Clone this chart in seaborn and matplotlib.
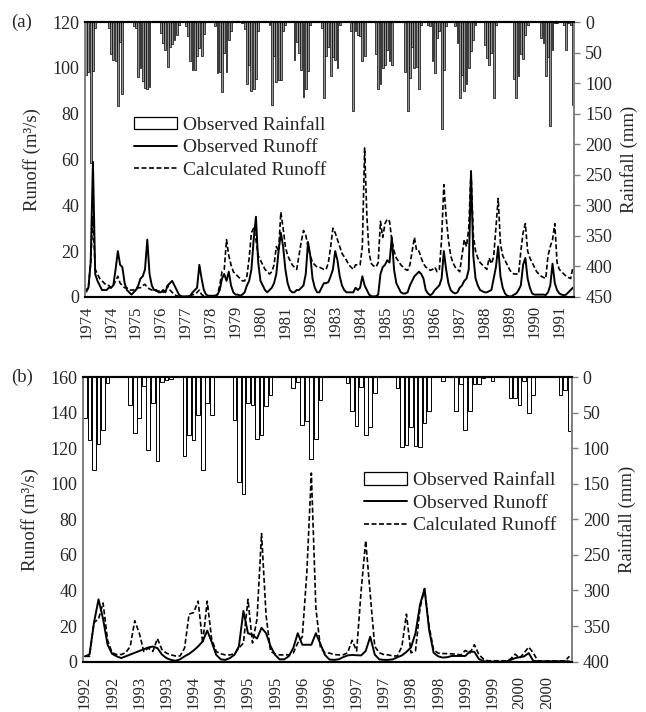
import matplotlib
matplotlib.use("Agg")
import numpy as np
import pandas as pd
import seaborn as sns
import matplotlib.pyplot as plt
from matplotlib.patches import Patch
from matplotlib.lines import Line2D

# ---------------- data (monthly) ----------------
# Panel (a): 1974-1991, 216 months
rain_a = [87, 82, 230, 80, 10, 0, 0, 0, 0, 0,
          9, 52, 62, 64, 138, 32, 118, 0, 0, 0,
          0, 7, 10, 90, 75, 96, 108, 109, 107, 0,
          0, 0, 0, 18, 34, 46, 74, 40, 36, 29,
          21, 4, 0, 0, 7, 23, 64, 78, 78, 55,
          43, 55, 20, 0, 0, 0, 0, 7, 83, 81,
          114, 51, 81, 29, 15, 0, 0, 0, 0, 2,
          12, 102, 70, 113, 110, 94, 15, 0, 0, 0,
          0, 4, 135, 56, 98, 95, 95, 15, 4, 0,
          0, 0, 62, 32, 51, 78, 122, 110, 80, 4,
          0, 0, 0, 0, 10, 124, 56, 40, 89, 58,
          62, 75, 4, 0, 0, 0, 0, 15, 146, 15,
          21, 23, 64, 56, 0, 0, 0, 0, 53, 110,
          102, 75, 70, 45, 63, 70, 0, 0, 0, 0,
          0, 81, 146, 92, 40, 75, 74, 110, 4, 0,
          0, 4, 7, 64, 83, 26, 15, 175, 78, 7,
          0, 0, 0, 7, 34, 124, 86, 113, 102, 75,
          48, 29, 4, 0, 0, 0, 37, 59, 70, 50,
          124, 4, 0, 0, 0, 0, 0, 0, 0, 94,
          124, 89, 53, 60, 21, 4, 0, 0, 0, 0,
          0, 26, 34, 89, 58, 170, 45, 2, 2, 0,
          0, 4, 45, 2, 5, 135]
obs_a = [3, 4, 15, 59, 10, 7, 5, 3, 3, 3,
         4, 4, 5, 12, 20, 14, 13, 6, 3, 2,
         1, 2, 3, 5, 8, 9, 12, 25, 10, 5,
         3, 3, 2, 2, 3, 2, 5, 6, 7, 5,
         3, 1, 0.3, 0.2, 0.2, 0.3, 0.5, 2, 3, 4,
         14, 8, 3, 1, 0.5, 0.5, 0.5, 0.5, 1, 3,
         8, 10, 7, 11, 5, 2, 1, 1, 0.5, 1,
         2, 5, 7, 12, 25, 35, 15, 7, 5, 3,
         2, 3, 4, 6, 10, 20, 28, 22, 12, 6,
         3, 2, 2, 3, 3, 4, 5, 10, 24, 18,
         8, 4, 2, 2, 4, 6, 6, 6.5, 9, 12,
         20, 16, 9, 5, 3, 2, 2, 2, 2, 4,
         3, 4, 9, 5, 3, 1, 0.3, 0.2, 0.3, 1,
         10, 13, 14, 16, 15, 26, 12, 6, 4, 2,
         1.5, 1.5, 2, 5, 7, 9, 10, 11, 10, 8,
         3, 1.5, 0.7, 1.5, 3, 4, 5, 8, 20, 12,
         6, 3, 2, 1.5, 2, 4, 5, 7, 8, 12,
         55, 18, 8, 5, 3, 2.5, 2, 2, 2.5, 3,
         8, 13, 22, 9, 4, 1.5, 0.5, 0.2, 0.3, 1,
         1.5, 3, 5, 14, 17, 8, 4, 1.5, 1, 1,
         1, 1, 1, 0.8, 2, 5, 14.5, 6, 3, 1.5,
         1, 0.7, 1, 2, 3, 4]
calc_a = [2, 4, 15, 35, 12, 10, 8, 7, 6, 5,
          5, 4, 5, 7, 9, 6, 5, 4, 4, 3,
          3, 3, 3, 4, 4, 5, 5.5, 4, 3.5, 3,
          3, 2.5, 2.5, 3, 2, 3, 5, 3, 2, 1,
          0.5, 0.2, 0.1, 0.1, 0.1, 0.2, 0.3, 1, 1, 2,
          3, 1, 0.5, 0.2, 0.1, 0.1, 0.2, 0.5, 1, 5,
          11, 12, 25, 18, 14, 11, 10, 9, 8, 7,
          7, 9, 17, 28, 30, 25, 18, 16, 14, 12,
          11, 10, 11, 14, 22, 20, 37, 30, 22, 18,
          16, 14, 13, 12, 18, 24, 29, 27, 22, 18,
          15, 14, 13, 13, 12.5, 12, 12, 15, 22, 30,
          28, 25, 22, 19, 17.5, 16, 14, 13, 12, 14,
          14, 14, 22, 65, 35, 19, 14.5, 13.5, 13, 15,
          33, 26, 32, 34, 33, 25, 20, 17, 15.5, 14,
          13, 12, 11.6, 14, 20, 26, 20, 20, 17, 14.5,
          13, 12.5, 11.6, 12, 13, 11, 12, 25, 49, 35,
          25, 18, 15, 13, 12, 11, 18, 25, 22, 30,
          55, 27, 20, 17, 15, 14, 13, 12, 17, 14.5,
          17.5, 30, 43, 23, 18, 16, 14, 12, 10.5, 10,
          10, 10, 20, 28, 32, 20, 17, 15, 13, 11,
          10, 9, 8.5, 8, 18, 22, 25, 32, 15, 12,
          11, 10, 9, 8.5, 8, 13]
ticks_a = list(range(0, 216, 11))
labels_a = ["1974", "1974", "1975", "1976", "1977", "1978", "1979", "1980",
            "1981", "1982", "1983", "1984", "1985", "1985", "1986", "1987",
            "1988", "1989", "1990", "1991"]

# Panel (b): 1992-2000, 108 months
rain_b = [57, 88, 130, 94, 74, 8, 0, 0, 0, 0,
          39, 78, 58, 12, 102, 37, 118, 7, 4, 3,
          0, 0, 111, 81, 88, 53, 130, 36, 54, 0,
          0, 0, 0, 61, 147, 164, 37, 40, 87, 82,
          41, 25, 0, 0, 0, 0, 15, 7, 68, 62,
          115, 87, 32, 0, 0, 0, 0, 0, 8, 48,
          69, 14, 82, 70, 23, 0, 0, 0, 0, 15,
          98, 96, 70, 97, 99, 64, 48, 0, 0, 5,
          0, 0, 48, 10, 75, 48, 10, 10, 2, 0,
          5, 0, 0, 0, 29, 30, 39, 5, 50, 25,
          0, 0, 0, 0, 0, 25, 18, 76]
obs_b = [3, 4, 22, 35, 24, 9.5, 4.4, 3, 2, 3,
         4, 5, 6, 7, 8, 8.5, 7.6, 4, 2, 1,
         0.5, 1.3, 3, 4.4, 6.3, 8.6, 11.4, 17.5, 11, 3.8,
         1.3, 1, 2, 3.8, 8.6, 28.5, 16, 15, 13, 19,
         16, 8.6, 3.8, 1.3, 1.3, 3, 7.6, 16, 9.5, 9.5,
         9.5, 16, 10, 3.8, 1.2, 1, 1.3, 2.5, 3.5, 3.8,
         3.6, 3.5, 6, 14, 4, 1.3, 1, 1, 1.3, 2.5,
         3.5, 5.5, 8, 16, 32, 41, 18, 5, 3, 2.3,
         2.5, 3.2, 3.2, 3.2, 3.2, 5.7, 5.5, 1.5, 0.3, 0,
         0, 0, 0, 0, 1, 2, 2.5, 3, 4.8, 0.5,
         0.2, 0.2, 0.2, 0.2, 0.2, 0.2, 0.2, 0.2]
calc_b = [3, 3, 22, 24, 33, 12, 5, 4, 4, 5,
          8.6, 23, 16, 5.7, 7.6, 5.7, 13, 6.7, 4.8, 3.8,
          3.2, 3.2, 7.6, 26.7, 27.6, 34, 10.5, 34, 12.4, 5.7,
          4.4, 3.8, 3.8, 4.4, 7.6, 10.5, 35, 10.5, 24, 72,
          26, 5.7, 4.4, 3.8, 3.8, 3.8, 4.8, 10.5, 14, 50,
          106, 30, 8, 5, 4.8, 4, 3.8, 3.8, 5, 12,
          6, 40, 68, 38, 8.6, 5, 4, 3.8, 3.2, 3.2,
          8.6, 26.7, 5, 6, 30, 41, 20, 6.5, 4.8, 4.6,
          4.5, 4.4, 4.2, 3.8, 6.3, 4.8, 9.5, 4, 1.5, 0.5,
          0.5, 0.5, 0.5, 0.5, 1.5, 4.2, 2, 5, 8.2, 5,
          0.5, 0.4, 0.4, 0.4, 0.4, 0.4, 0.4, 3]
ticks_b = list(range(0, 108, 6))
labels_b = ["1992", "1992", "1993", "1993", "1994", "1994", "1995", "1995",
            "1996", "1996", "1997", "1997", "1998", "1998", "1999", "1999",
            "2000", "2000"]

legend_labels = ["Observed Rainfall", "Observed Runoff", "Calculated Runoff"]

# ---------------- style ----------------
sns.set_theme(style="white")
plt.rcParams['font.family'] = ['Liberation Serif', 'DejaVu Serif']
FS = 13
GRAY = '#808080'
DASH = (0, (3.0, 1.5))

fig = plt.figure(figsize=(6.46, 7.12), dpi=100)
axA = fig.add_axes([0.1316, 0.583, 0.757, 0.386])
axB = fig.add_axes([0.128, 0.0707, 0.757, 0.3998])


def panel(ax, rain, obs, calc, ymax, ystep, rmax, rstep, ticks, labels,
          barcolor, bar_lw, leg_anchor, xpad):
    n = len(rain)
    idx = np.arange(n)
    df = pd.DataFrame({"t": idx, "rain": rain, "obs": obs, "calc": calc})
    ax2 = ax.twinx()
    sns.barplot(data=df, x="t", y="rain", ax=ax2, color=barcolor,
                edgecolor="black", linewidth=bar_lw, width=0.82,
                saturation=1, errorbar=None)
    sns.lineplot(data=df, x="t", y="obs", ax=ax, color="black",
                 linewidth=1.4)
    sns.lineplot(data=df, x="t", y="calc", ax=ax, color="black",
                 linewidth=1.2, linestyle=DASH)
    ax.set_zorder(ax2.get_zorder() + 1)
    ax.patch.set_visible(False)

    ax.set_xlim(-0.5, n - 0.5)
    ax.set_ylim(0, ymax)
    ax2.set_ylim(rmax, 0)
    ax.set_yticks(np.arange(0, ymax + 1, ystep))
    ax2.set_yticks(np.arange(0, rmax + 1, rstep))
    ax.set_xticks(ticks)
    ax.set_xticklabels(labels, rotation=90, fontsize=FS - 1)
    ax.tick_params(axis='y', labelsize=FS, length=0, pad=4)
    ax.tick_params(axis='x', length=0, pad=xpad)
    ax2.tick_params(axis='y', labelsize=FS, length=4, width=1,
                    color=GRAY, pad=4, direction='out')
    ax.set_xlabel("")
    ax2.set_xlabel("")
    ax.set_ylabel("Runoff (m³/s)", fontsize=FS + 0.5, labelpad=8)
    ax2.set_ylabel("Rainfall (mm)", fontsize=FS + 0.5, labelpad=6)

    for a in (ax, ax2):
        a.spines['left'].set_color(GRAY)
        a.spines['right'].set_color(GRAY)
        a.spines['top'].set_color('black')
        a.spines['bottom'].set_color('black')
        a.spines['left'].set_linewidth(1.2)
        a.spines['right'].set_linewidth(1.2)
        a.spines['top'].set_linewidth(1.5)
        a.spines['bottom'].set_linewidth(1.5)
        a.grid(False)

    handles = [Patch(facecolor='white', edgecolor='black', linewidth=0.9),
               Line2D([], [], color='black', linewidth=1.4),
               Line2D([], [], color='black', linewidth=1.2, linestyle=DASH)]
    ax.legend(handles, legend_labels, loc='upper left',
              bbox_to_anchor=leg_anchor, frameon=False, fontsize=FS + 1,
              handlelength=2.2, handleheight=0.6, labelspacing=0.28,
              handletextpad=0.35, borderaxespad=0, borderpad=0)
    return ax2


panel(axA, rain_a, obs_a, calc_a, 120, 20, 450, 50, ticks_a, labels_a,
      '#959595', 0.5, (0.1, 0.655), 6)
panel(axB, rain_b, obs_b, calc_b, 160, 20, 400, 50, ticks_b, labels_b,
      'white', 0.7, (0.575, 0.665), 10)

fig.text(0.017, 0.969, "(a)", fontsize=FS + 0.5, va='center', ha='left')
fig.text(0.017, 0.4705, "(b)", fontsize=FS + 0.5, va='center', ha='left')

fig.savefig("out.png", dpi=100, facecolor='white')
